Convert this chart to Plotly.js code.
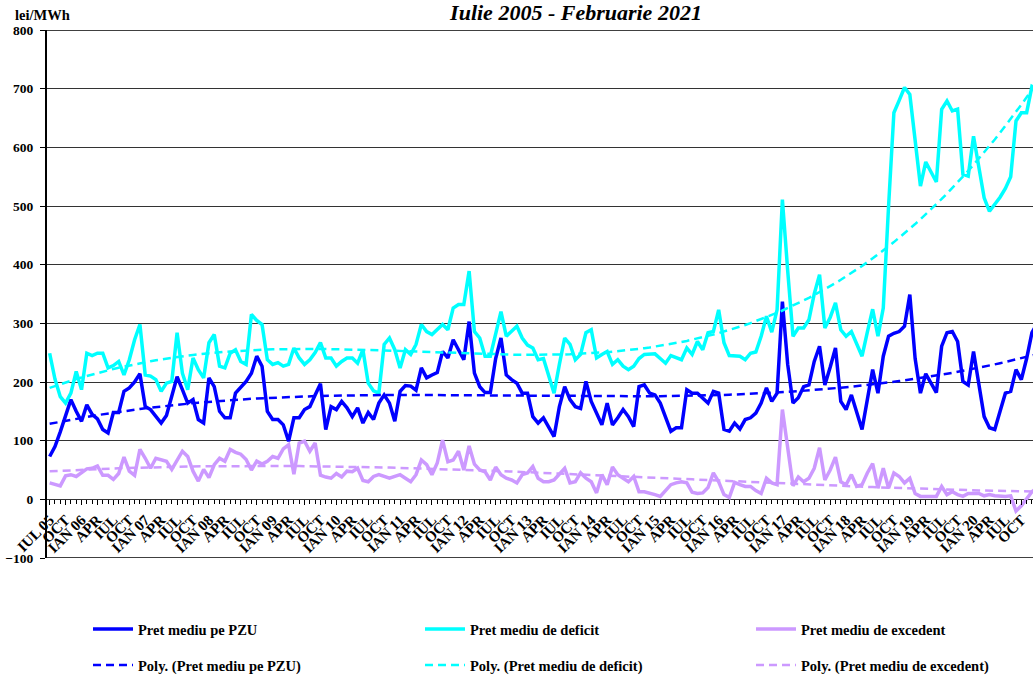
<!DOCTYPE html>
<html><head><meta charset="utf-8">
<script src="https://cdn.plot.ly/plotly-3.0.1.min.js"></script>
<style>html,body{margin:0;padding:0;background:#fff}</style>
</head><body>
<div id="chart" style="width:1033px;height:675px"></div>
<script>
// Tick labels every 3 months, Jul 2005 .. Jan 2021
const tickLabels = ["IUL 05","OCT",
 "IAN 06","APR","IUL","OCT","IAN 07","APR","IUL","OCT","IAN 08","APR","IUL","OCT",
 "IAN 09","APR","IUL","OCT","IAN 10","APR","IUL","OCT","IAN 11","APR","IUL","OCT",
 "IAN 12","APR","IUL","OCT","IAN 13","APR","IUL","OCT","IAN 14","APR","IUL","OCT",
 "IAN 15","APR","IUL","OCT","IAN 16","APR","IUL","OCT","IAN 17","APR","IUL","OCT",
 "IAN 18","APR","IUL","OCT","IAN 19","APR","IUL","OCT","IAN 20","APR","IUL","OCT",
 "IAN 21"];

// Monthly values (lei/MWh), Jul 2005 .. Feb 2021
const pretPZU = [
 73, 90, 115, 145, 170, 150, 133, 161, 145, 137, 119, 113,
 148, 148, 184, 190, 200, 214, 158, 153, 141, 130, 143, 175,
 209, 187, 164, 170, 136, 130, 207, 192, 150, 139, 139, 181,
 192, 201, 215, 244, 227, 150, 136, 136, 127, 99, 139, 139,
 153, 158, 178, 197, 119, 158, 153, 167, 156, 141, 156, 130,
 148, 136, 164, 178, 164, 133, 184, 194, 193, 186, 224, 207,
 212, 216, 252, 241, 272, 255, 238, 303, 215, 192, 182, 182,
 240, 275, 212, 204, 198, 181, 181, 141, 130, 139, 124, 107,
 158, 192, 170, 158, 155, 201, 167, 148, 127, 164, 127, 139,
 153, 141, 124, 192, 195, 181, 178, 164, 141, 116, 122, 122,
 187, 181, 181, 172, 164, 184, 181, 119, 116, 130, 120, 136,
 139, 147, 164, 190, 167, 181, 337, 230, 164, 173, 192, 195,
 235, 261, 195, 225, 258, 167, 153, 178, 150, 119, 170, 221,
 181, 244, 278, 283, 286, 295, 349, 240, 181, 214, 198, 182,
 261, 284, 286, 269, 201, 195, 252, 200, 141, 122, 119, 150,
 181, 184, 221, 204, 240, 284, 300, 290];

const pretDeficit = [
 249, 205, 175, 164, 181, 218, 187, 249, 245, 249, 249, 224,
 228, 235, 212, 238, 272, 298, 212, 210, 204, 184, 198, 201,
 284, 215, 187, 241, 221, 207, 267, 281, 227, 224, 249, 255,
 235, 230, 315, 305, 298, 238, 230, 233, 227, 230, 258, 241,
 230, 238, 250, 267, 241, 241, 227, 235, 241, 241, 232, 255,
 198, 185, 181, 264, 275, 255, 224, 255, 247, 264, 298, 286,
 281, 289, 298, 289, 326, 332, 332, 389, 286, 275, 244, 244,
 280, 320, 278, 287, 295, 275, 263, 258, 238, 240, 210, 181,
 230, 275, 264, 238, 247, 284, 289, 241, 247, 252, 230, 238,
 227, 221, 227, 240, 247, 247, 248, 240, 232, 245, 241, 238,
 258, 247, 269, 255, 284, 286, 323, 267, 245, 244, 244, 238,
 249, 251, 278, 312, 285, 323, 511, 390, 278, 292, 292, 306,
 350, 383, 292, 310, 335, 289, 278, 286, 265, 244, 285, 324,
 278, 326, 500, 659, 680, 702, 690, 612, 534, 575, 558, 541,
 665, 679, 662, 665, 554, 551, 619, 568, 514, 491, 503, 515,
 530, 550, 645, 659, 659, 704, 700, 700];

const pretExcedent = [
 28, 26, 23, 40, 42, 39, 45, 52, 53, 57, 41, 41,
 34, 44, 72, 48, 41, 85, 70, 53, 70, 68, 65, 51,
 68, 82, 73, 48, 31, 51, 37, 59, 70, 65, 85, 80,
 77, 68, 50, 65, 60, 65, 73, 70, 86, 93, 43, 96,
 99, 82, 96, 41, 38, 36, 44, 38, 48, 47, 53, 32,
 30, 39, 42, 39, 36, 39, 42, 36, 30, 42, 67, 59,
 42, 62, 101, 64, 67, 82, 50, 91, 60, 50, 47, 33,
 55, 42, 36, 33, 28, 42, 45, 56, 36, 30, 30, 33,
 42, 53, 28, 30, 45, 36, 30, 11, 42, 25, 55, 42,
 36, 30, 39, 13, 13, 11, 8, 5, 16, 25, 28, 30,
 28, 12, 10, 11, 20, 45, 30, 8, 3, 29, 25, 22,
 22, 15, 10, 36, 28, 25, 153, 88, 23, 38, 30, 36,
 53, 88, 33, 50, 72, 30, 25, 42, 22, 25, 45, 61,
 19, 53, 19, 45, 39, 28, 36, 10, 5, 5, 5, 5,
 22, 8, 13, 8, 5, 10, 10, 10, 6, 8, 6, 5,
 5, 6, -20, -11, 0, 13, 20, 20];

const seriesNames = ["Pret mediu pe PZU", "Pret mediu de deficit", "Pret mediu de excedent"];
const trendDegree = [3, 4, 3];

// Least-squares polynomial trendline (like Excel "Poly." trendline)
function polyTrend(ys, deg) {
  const n = ys.length, N = deg + 1;
  const A = Array.from({length: N}, () => new Array(N).fill(0));
  const b = new Array(N).fill(0);
  for (let i = 0; i < n; i++) {
    const t = (i + 1) / n;
    const p = [1];
    for (let k = 1; k <= 2 * deg; k++) p.push(p[k - 1] * t);
    for (let r = 0; r < N; r++) {
      b[r] += p[r] * ys[i];
      for (let c = 0; c < N; c++) A[r][c] += p[r + c];
    }
  }
  for (let col = 0; col < N; col++) {
    let piv = col;
    for (let r = col + 1; r < N; r++) if (Math.abs(A[r][col]) > Math.abs(A[piv][col])) piv = r;
    [A[col], A[piv]] = [A[piv], A[col]]; [b[col], b[piv]] = [b[piv], b[col]];
    for (let r = col + 1; r < N; r++) {
      const f = A[r][col] / A[col][col];
      for (let c = col; c < N; c++) A[r][c] -= f * A[col][c];
      b[r] -= f * b[col];
    }
  }
  const coef = new Array(N).fill(0);
  for (let r = N - 1; r >= 0; r--) {
    let s = b[r];
    for (let c = r + 1; c < N; c++) s -= A[r][c] * coef[c];
    coef[r] = s / A[r][r];
  }
  return ys.map((_, i) => { const t = (i + 1) / n; let v = 0, p = 1; for (let k = 0; k < N; k++) { v += coef[k] * p; p *= t; } return v; });
}

const FONT = "Liberation Serif, 'Times New Roman', serif";
const colors = ["#0000FF", "#00FFFF", "#CC99FF"];
const allSeries = [pretPZU, pretDeficit, pretExcedent];
const xIdx = pretPZU.map((_, i) => i);
const tickVals = tickLabels.map((_, k) => 3 * k);

const legendIds = ["legend", "legend2", "legend3", "legend4", "legend5", "legend6"];
const traces = [];
allSeries.forEach((ys, s) => {
  traces.push({type: "scatter", mode: "lines", x: xIdx, y: ys, name: seriesNames[s],
    line: {color: colors[s], width: 3.5}, legend: legendIds[s], hoverinfo: "skip"});
});
allSeries.forEach((ys, s) => {
  traces.push({type: "scatter", mode: "lines", x: xIdx, y: polyTrend(ys, trendDegree[s]),
    name: "Poly. (" + seriesNames[s] + ")",
    line: {color: colors[s], width: 2.5, dash: "8px,5px"}, legend: legendIds[s + 3], hoverinfo: "skip"});
});

const plotL = 47, plotR = 1033, plotT = 30, plotB = 558;
const px2x = px => (px - plotL) / (plotR - plotL);
const py2y = py => 1 - (py - plotT) / (plotB - plotT);
const legFont = {family: FONT, size: 14.5, color: "#000", weight: "bold"};
function leg(xpx, ypx) {
  return {x: px2x(xpx), y: py2y(ypx), xref: "paper", yref: "paper", xanchor: "left", yanchor: "middle",
    bgcolor: "rgba(0,0,0,0)", borderwidth: 0, font: legFont, orientation: "h", itemwidth: 40};
}

const layout = {
  width: 1033, height: 675,
  margin: {l: plotL, r: 1033 - plotR, t: plotT, b: 675 - plotB, autoexpand: false},
  paper_bgcolor: "#fff", plot_bgcolor: "#fff",
  showlegend: true,
  title: {text: "<b><i>Iulie 2005 - Februarie 2021</i></b>",
    font: {family: FONT, size: 22, color: "#000"},
    x: 576 / 1033, xref: "container", xanchor: "center",
    y: 1 - 12 / 675, yref: "container", yanchor: "middle"},
  xaxis: {range: [-0.5, 185.2], anchor: "free", position: 100 / 900,
    tickmode: "array", tickvals: tickVals, ticktext: tickLabels, tickangle: -45,
    ticks: "outside", ticklen: 5, tickcolor: "#000", tickwidth: 1,
    tickfont: {family: FONT, size: 15, color: "#000", weight: "bold"},
    showgrid: false, zeroline: false, showline: false, automargin: false,
    minor: {ticks: "outside", ticklen: 4, tickcolor: "#000", tickmode: "linear", tick0: 0, dtick: 1, showgrid: false}},
  yaxis: {range: [-100, 800], tickmode: "linear", tick0: 0, dtick: 100,
    ticks: "outside", ticklen: 5, tickcolor: "#000", automargin: false,
    showline: true, linecolor: "#000", linewidth: 2,
    showgrid: true, gridcolor: "#333", gridwidth: 1, zeroline: false,
    tickfont: {family: FONT, size: 13.5, color: "#000", weight: "bold"}, ticklabelstandoff: 4},
  shapes: [
    {type: "line", xref: "paper", yref: "y", x0: 0, x1: 1, y0: 800, y1: 800, line: {color: "#000", width: 1.5}},
    {type: "line", xref: "paper", yref: "y", x0: 0, x1: 1, y0: -100, y1: -100, line: {color: "#000", width: 1.5}}
  ],
  annotations: [
    {text: "<b>lei/MWh</b>", xref: "paper", yref: "paper", x: px2x(14), y: py2y(15),
     xanchor: "left", yanchor: "middle", showarrow: false, borderpad: 0,
     font: {family: FONT, size: 14.5, color: "#000"}}
  ],
  legend: leg(88, 629), legend2: leg(420, 629), legend3: leg(751, 629),
  legend4: leg(88, 665), legend5: leg(420, 665), legend6: leg(751, 665)
};

Plotly.newPlot("chart", traces, layout, {displayModeBar: false, staticPlot: true});
</script>
</body></html>
